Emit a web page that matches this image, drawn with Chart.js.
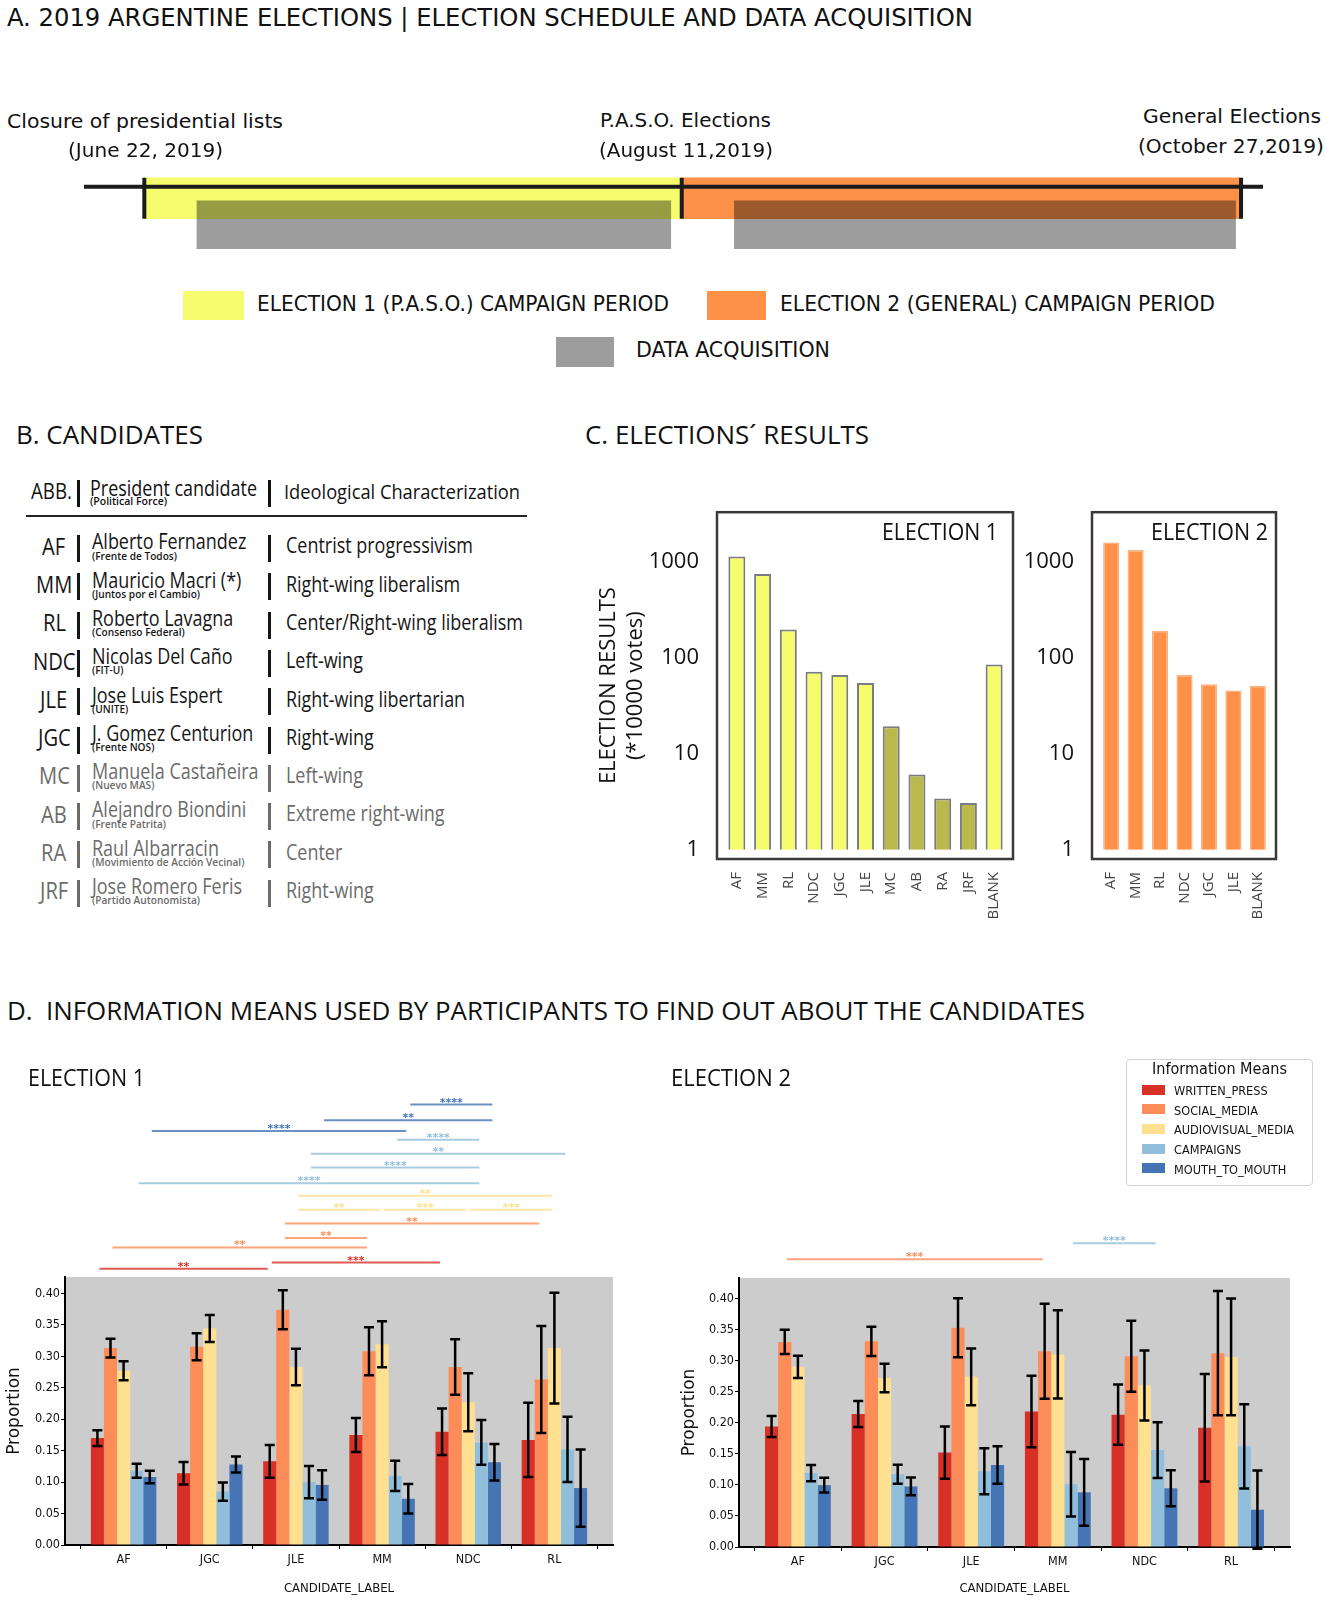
<!DOCTYPE html>
<html>
<head>
<meta charset="utf-8">
<title>2019 Argentine elections</title>
<script src="https://cdn.jsdelivr.net/npm/chart.js@4.4.1/dist/chart.umd.min.js"></script>
<style>
  html, body { margin: 0; padding: 0; background: #fff; }
  body { position: relative; width: 1325px; height: 1602px; overflow: hidden; }
  .t { position: absolute; left: 0; white-space: pre; transform-origin: 0 0; }
  .box { position: absolute; }
  canvas { position: absolute; }
</style>
</head>
<body>
<canvas id="timeline" style="left:0;top:160px" width="1325" height="110"></canvas>
<canvas id="res1" style="left:580px;top:482px" width="440" height="448"></canvas>
<canvas id="res2" style="left:1020px;top:482px" width="270" height="448"></canvas>
<canvas id="info1" style="left:0;top:1085px" width="625" height="517"></canvas>
<canvas id="info2" style="left:625px;top:1085px" width="700" height="517"></canvas>
<script>
// ---------- data ----------
// A. schedule (positions are schematic, the original time line is not to scale)
const periodNames = ['ELECTION 1 (P.A.S.O.) CAMPAIGN PERIOD', 'ELECTION 2 (GENERAL) CAMPAIGN PERIOD', 'DATA ACQUISITION'];
const periodColors = ['#f5fd6e', '#fd9147', '#9d9d9d'];
const milestoneTitles = ['Closure of presidential lists', 'P.A.S.O. Elections', 'General Elections'];
const milestoneDates = ['(June 22, 2019)', '(August 11,2019)', '(October 27,2019)'];
const milestonePos = [0, 49, 100];
const campaignSpans = [[0, 49], [49, 100]];
const acquisitionSpans = [[4.8, 48], [53.8, 99.5]];

// B. candidates
const abbrevs = ['AF', 'MM', 'RL', 'NDC', 'JLE', 'JGC', 'MC', 'AB', 'RA', 'JRF'];
const candidateNames = ['Alberto Fernandez', 'Mauricio Macri (*)', 'Roberto Lavagna', 'Nicolas Del Caño', 'Jose Luis Espert',
  'J. Gomez Centurion', 'Manuela Castañeira', 'Alejandro Biondini', 'Raul Albarracin', 'Jose Romero Feris'];
const parties = ['(Frente de Todos)', '(Juntos por el Cambio)', '(Consenso Federal)', '(FIT-U)', '(UNITE)',
  '(Frente NOS)', '(Nuevo MAS)', '(Frente Patrita)', '(Movimiento de Acción Vecinal)', '(Partido Autonomista)'];
const ideologies = ['Centrist progressivism', 'Right-wing liberalism', 'Center/Right-wing liberalism', 'Left-wing',
  'Right-wing libertarian', 'Right-wing', 'Left-wing', 'Extreme right-wing', 'Center', 'Right-wing'];

// C. results (*10000 votes)
const resultLabels1 = ['AF', 'MM', 'RL', 'NDC', 'JGC', 'JLE', 'MC', 'AB', 'RA', 'JRF', 'BLANK'];
const results1 = [1127, 744, 196, 71.2, 66.1, 54.6, 19.3, 6.08, 3.42, 3.07, 84.8];
const resultLabels2 = ['AF', 'MM', 'RL', 'NDC', 'JGC', 'JLE', 'BLANK'];
const results2 = [1583, 1318, 191, 66.1, 52.7, 45.6, 51];
const logTicks = [1, 10, 100, 1000];

// D. information means
const infoMeans = ['WRITTEN_PRESS', 'SOCIAL_MEDIA', 'AUDIOVISUAL_MEDIA', 'CAMPAIGNS', 'MOUTH_TO_MOUTH'];
const meansColors = ['#d73027', '#fc8d59', '#fee090', '#91bfdb', '#4575b4'];
const surveyCandidates = ['AF', 'JGC', 'JLE', 'MM', 'NDC', 'RL'];

const e1Press = [0.170, 0.114, 0.133, 0.175, 0.180, 0.167];
const e1Social = [0.313, 0.315, 0.374, 0.308, 0.283, 0.263];
const e1Audiovisual = [0.277, 0.344, 0.283, 0.319, 0.227, 0.313];
const e1Campaigns = [0.118, 0.085, 0.100, 0.110, 0.163, 0.152];
const e1Mouth = [0.108, 0.128, 0.0955, 0.0735, 0.1315, 0.0905];
const e1PressErr = [0.0125, 0.018, 0.026, 0.027, 0.037, 0.059];
const e1SocialErr = [0.015, 0.0215, 0.031, 0.038, 0.044, 0.085];
const e1AudiovisualErr = [0.015, 0.0215, 0.029, 0.0365, 0.046, 0.088];
const e1CampaignsErr = [0.011, 0.0145, 0.0255, 0.024, 0.0355, 0.052];
const e1MouthErr = [0.010, 0.0128, 0.0235, 0.0235, 0.029, 0.0615];

const e2Press = [0.194, 0.214, 0.152, 0.218, 0.213, 0.192];
const e2Social = [0.330, 0.331, 0.353, 0.315, 0.307, 0.312];
const e2Audiovisual = [0.290, 0.272, 0.274, 0.310, 0.260, 0.306];
const e2Campaigns = [0.119, 0.117, 0.122, 0.101, 0.156, 0.162];
const e2Mouth = [0.0996, 0.0975, 0.132, 0.088, 0.0945, 0.060];
const e2PressErr = [0.017, 0.021, 0.042, 0.0575, 0.0485, 0.0865];
const e2SocialErr = [0.0195, 0.0235, 0.0475, 0.0765, 0.057, 0.100];
const e2AudiovisualErr = [0.018, 0.023, 0.0457, 0.071, 0.0565, 0.094];
const e2CampaignsErr = [0.013, 0.0153, 0.037, 0.052, 0.045, 0.0677];
const e2MouthErr = [0.012, 0.0143, 0.030, 0.0537, 0.029, 0.063];

// significance brackets: [means, from, to, stars, height on the proportion axis]
const e1Brackets = [
  ['MOUTH_TO_MOUTH', 'MM', 'NDC', '****', 0.700],
  ['MOUTH_TO_MOUTH', 'JLE', 'NDC', '**', 0.675],
  ['MOUTH_TO_MOUTH', 'AF', 'MM', '****', 0.658],
  ['CAMPAIGNS', 'MM', 'NDC', '****', 0.644],
  ['CAMPAIGNS', 'JLE', 'RL', '**', 0.622],
  ['CAMPAIGNS', 'JLE', 'NDC', '****', 0.600],
  ['CAMPAIGNS', 'AF', 'NDC', '****', 0.575],
  ['AUDIOVISUAL_MEDIA', 'JLE', 'RL', '**', 0.555],
  ['AUDIOVISUAL_MEDIA', 'JLE', 'MM', '**', 0.533],
  ['AUDIOVISUAL_MEDIA', 'MM', 'NDC', '***', 0.533],
  ['AUDIOVISUAL_MEDIA', 'NDC', 'RL', '***', 0.533],
  ['SOCIAL_MEDIA', 'JLE', 'RL', '**', 0.511],
  ['SOCIAL_MEDIA', 'JLE', 'MM', '**', 0.488],
  ['SOCIAL_MEDIA', 'AF', 'MM', '**', 0.473],
  ['WRITTEN_PRESS', 'JLE', 'NDC', '***', 0.449],
  ['WRITTEN_PRESS', 'AF', 'JLE', '**', 0.439]
];
const e2Brackets = [
  ['CAMPAIGNS', 'MM', 'NDC', '****', 0.489],
  ['SOCIAL_MEDIA', 'AF', 'MM', '***', 0.463]
];

// ---------- text helpers ----------
const NARROW = {family: '"Liberation Sans Narrow", "DejaVu Sans Condensed", sans-serif', base: 0.847};
const OPEN = {family: '"Open Sans", sans-serif', base: 0.888};
const DV = {family: '"DejaVu Sans Condensed", "DejaVu Sans", sans-serif', base: 0.846};

function addText(str, o) {
  const f = o.font || OPEN;
  const el = document.createElement('div');
  el.className = 't';
  el.textContent = str;
  el.style.fontFamily = f.family;
  el.style.fontSize = o.size + 'px';
  el.style.fontWeight = o.weight || 400;
  el.style.lineHeight = '1';
  el.style.color = o.color || '#111';
  el.style.top = (o.base - f.base * o.size) + 'px';
  document.body.appendChild(el);
  const nat = el.getBoundingClientRect().width;
  const k = o.w ? o.w / nat : (o.k || 1);
  el.style.transform = 'scaleX(' + k + ')';
  el.style.left = (o.cx !== undefined ? o.cx - nat * k / 2 : o.x) + 'px';
  return el;
}
function addBox(x, y, w, h, style) {
  const el = document.createElement('div');
  el.className = 'box';
  Object.assign(el.style, {left: x + 'px', top: y + 'px', width: w + 'px', height: h + 'px'}, style);
  document.body.appendChild(el);
  return el;
}

// ---------- A. election schedule ----------
addText('A. 2019 ARGENTINE ELECTIONS | ELECTION SCHEDULE AND DATA ACQUISITION', {x: 7, base: 26, size: 25, font: NARROW, w: 966});
addText(milestoneTitles[0], {x: 7, base: 128, size: 20, font: NARROW, w: 276});
addText(milestoneDates[0], {x: 68, base: 157, size: 20, font: NARROW, w: 155});
addText(milestoneTitles[1], {x: 600, base: 127, size: 20, font: NARROW, w: 171});
addText(milestoneDates[1], {x: 599, base: 157, size: 20, font: NARROW, w: 174});
addText(milestoneTitles[2], {x: 1143, base: 123, size: 20, font: NARROW, w: 178});
addText(milestoneDates[2], {x: 1138, base: 153, size: 20, font: NARROW, w: 186});

addBox(183, 291, 61, 29, {background: periodColors[0]});
addText(periodNames[0], {x: 257, base: 312, size: 21, font: NARROW, w: 412});
addBox(707, 291, 59, 29, {background: periodColors[1]});
addText(periodNames[1], {x: 780, base: 312, size: 21, font: NARROW, w: 435});
addBox(556, 337, 58, 30, {background: periodColors[2]});
addText(periodNames[2], {x: 636, base: 358, size: 21, font: NARROW, w: 194});

const timelinePlugin = {
  id: 'timeline',
  beforeDatasetDraw(chart, args) {
    if (args.index === 1) { chart.ctx.save(); chart.ctx.globalCompositeOperation = 'multiply'; }
  },
  afterDatasetDraw(chart, args) {
    if (args.index === 1) chart.ctx.restore();
  },
  afterDatasetsDraw(chart) {
    const ctx = chart.ctx, x = chart.scales.x;
    const bar = chart.getDatasetMeta(0).data[0];
    const top = bar.y - bar.height / 2, bottom = bar.y + bar.height / 2;
    ctx.save();
    ctx.strokeStyle = '#1b1b1b';
    ctx.lineWidth = 4;
    ctx.beginPath();
    ctx.moveTo(x.left, top + 9);
    ctx.lineTo(x.right, top + 9);
    ctx.stroke();
    milestonePos.forEach(m => {
      const px = x.getPixelForValue(m);
      ctx.beginPath();
      ctx.moveTo(px, top);
      ctx.lineTo(px, bottom);
      ctx.stroke();
    });
    ctx.restore();
  }
};

new Chart(document.getElementById('timeline'), {
  type: 'bar',
  data: {
    labels: ['campaign', 'acquisition'],
    datasets: [
      {label: 'campaign', data: campaignSpans.map(s => ({x: s, y: 'campaign'})),
       backgroundColor: periodColors.slice(0, 2), barThickness: 41, order: 1, clip: false},
      {label: 'acquisition', data: acquisitionSpans.map(s => ({x: s, y: 'acquisition'})),
       backgroundColor: periodColors[2], barThickness: 48, order: 0, clip: false}
    ]
  },
  options: {
    indexAxis: 'y',
    responsive: false,
    animation: false,
    datasets: {bar: {grouped: false}},
    layout: {padding: {left: 84, right: 62, top: 25, bottom: 32}},
    plugins: {legend: {display: false}, tooltip: {enabled: false}},
    scales: {
      x: {type: 'linear', min: -5.5, max: 102, display: false},
      y: {display: false}
    }
  },
  plugins: [timelinePlugin]
});

// ---------- B. candidates table ----------
addText('B. CANDIDATES', {x: 16, base: 444, size: 26, w: 187});
addText('ABB.', {x: 31, base: 500, size: 21, w: 41});
addText('President candidate', {x: 90, base: 497, size: 21, w: 167});
addText('(Political Force)', {x: 90, base: 505.5, size: 10.5, weight: 600, w: 77});
addText('Ideological Characterization', {x: 284, base: 499.5, size: 19.5, w: 236});
addBox(77, 480, 3, 27, {background: '#111'});
addBox(268, 480, 3, 27, {background: '#111'});
addBox(26, 515, 501, 1.6, {background: '#222'});

const K = 0.855;
abbrevs.forEach((ab, i) => {
  const b = 550 + i * 38.3;
  const col = resultLabels2.includes(ab) ? '#161616' : '#6b6b6b';
  addText(ab, {cx: 54, base: b + 5, size: 24, k: 0.84, color: col});
  addText(candidateNames[i], {x: 92, base: b, size: 21, k: K, color: col});
  addText(parties[i], {x: 92, base: b + 9.8, size: 11.5, weight: 600, k: 0.88, color: col});
  addText(ideologies[i], {x: 286, base: b + 4, size: 21, k: K, color: col});
  addBox(77, b - 15, 3, 27, {background: col});
  addBox(268, b - 15, 3, 27, {background: col});
});

// ---------- C. election results ----------
addText('C. ELECTIONS\u00b4 RESULTS', {x: 585, base: 444, size: 26, w: 284});

const framePlugin = {
  id: 'frame',
  afterDraw(chart) {
    const {ctx, chartArea: a} = chart;
    ctx.save();
    ctx.strokeStyle = '#3a3a3a';
    ctx.lineWidth = 2.5;
    ctx.strokeRect(a.left - 7, a.top, a.right - a.left + 13, a.bottom - a.top);
    ctx.restore();
  }
};

function resultsChart(id, labels, values, fill, edge, edgeWidth, yWidth, padRight, yTitle) {
  return new Chart(document.getElementById(id), {
    type: 'bar',
    data: {
      labels: labels,
      datasets: [{data: values, backgroundColor: fill, borderColor: edge, borderWidth: edgeWidth,
                  base: 1, barPercentage: 0.66, categoryPercentage: 1}]
    },
    options: {
      responsive: false,
      animation: false,
      layout: {padding: {top: 0, right: padRight, left: 0, bottom: 0}},
      plugins: {legend: {display: false}, tooltip: {enabled: false}},
      scales: {
        x: {
          grid: {display: false}, border: {display: false},
          ticks: {minRotation: 90, maxRotation: 90, autoSkip: false, padding: 5, color: '#444',
                  font: {family: '"Open Sans", sans-serif', size: 15}},
          afterFit: s => { s.height = 71; }
        },
        y: {
          type: 'logarithmic', min: 0.8, max: 3270,
          grid: {display: false}, border: {display: false},
          afterBuildTicks: s => { s.ticks = logTicks.map(v => ({value: v})); },
          ticks: {padding: 17, color: '#111', font: {family: '"Open Sans", sans-serif', size: 22},
                  callback: v => String(v)},
          title: {display: !!yTitle, text: yTitle || '', color: '#111',
                  font: {family: '"Open Sans", sans-serif', size: 22}, padding: {top: 16}},
          afterFit: s => { s.width = yWidth; }
        }
      }
    },
    plugins: [framePlugin]
  });
}

resultsChart('res1', resultLabels1, results1,
  resultLabels1.map(l => resultLabels2.includes(l) ? '#f5fd6e' : '#bab94c'),
  '#7b7b84', 2, 144, 13, ['ELECTION RESULTS', '(*10000 votes)']);
resultsChart('res2', resultLabels2, results2, '#fd9147', '#fdb07e', 1.5, 79, 20, null);

addText('ELECTION 1', {x: 882, base: 540, size: 24, w: 116});
addText('ELECTION 2', {x: 1151, base: 540, size: 24, w: 117});

// ---------- D. information means ----------
addText('D.  INFORMATION MEANS USED BY PARTICIPANTS TO FIND OUT ABOUT THE CANDIDATES', {x: 7, base: 1020, size: 26, w: 1078});
addText('ELECTION 1', {x: 28, base: 1086, size: 24, w: 117});
addText('ELECTION 2', {x: 671, base: 1086, size: 24, w: 120});

function surveyPlugin(brackets) {
  return {
    id: 'survey',
    beforeDraw(chart) {
      const {ctx, chartArea: a} = chart;
      ctx.save();
      ctx.fillStyle = '#cccccc';
      ctx.fillRect(a.left, a.top, a.right - a.left, a.bottom - a.top);
      ctx.restore();
    },
    afterDatasetsDraw(chart) {
      const ctx = chart.ctx, y = chart.scales.y;
      ctx.save();
      ctx.strokeStyle = '#000';
      ctx.lineWidth = 2.5;
      chart.data.datasets.forEach((ds, k) => {
        chart.getDatasetMeta(k).data.forEach((bar, i) => {
          const v = ds.data[i].y, e = ds.err[i];
          const y1 = y.getPixelForValue(v + e), y2 = y.getPixelForValue(v - e);
          ctx.beginPath();
          ctx.moveTo(bar.x, y1); ctx.lineTo(bar.x, y2);
          ctx.moveTo(bar.x - 5, y1); ctx.lineTo(bar.x + 5, y1);
          ctx.moveTo(bar.x - 5, y2); ctx.lineTo(bar.x + 5, y2);
          ctx.stroke();
        });
      });
      ctx.restore();
    },
    afterDraw(chart) {
      const ctx = chart.ctx, y = chart.scales.y;
      brackets.forEach(([means, from, to, stars, h]) => {
        const k = infoMeans.indexOf(means);
        const bars = chart.getDatasetMeta(k).data;
        const x1 = bars[surveyCandidates.indexOf(from)].x + 2;
        const x2 = bars[surveyCandidates.indexOf(to)].x - 2;
        const py = y.getPixelForValue(h);
        ctx.save();
        ctx.globalAlpha = 0.8;
        ctx.strokeStyle = meansColors[k];
        ctx.lineWidth = 2;
        ctx.beginPath();
        ctx.moveTo(x1, py);
        ctx.lineTo(x2, py);
        ctx.stroke();
        ctx.globalAlpha = 1;
        ctx.fillStyle = meansColors[k];
        ctx.font = 'bold 11px "DejaVu Sans"';
        ctx.textAlign = 'center';
        ctx.textBaseline = 'alphabetic';
        ctx.fillText(stars, (x1 + x2) / 2, py + 1);
        ctx.restore();
      });
    }
  };
}

function surveyChart(id, vals, errs, brackets, c) {
  const tickFont = {family: '"DejaVu Sans Condensed", "DejaVu Sans", sans-serif', size: 12.5};
  return new Chart(document.getElementById(id), {
    type: 'bar',
    data: {
      datasets: infoMeans.map((name, k) => ({
        label: name,
        data: surveyCandidates.map((cand, i) => ({x: i, y: vals[k][i]})),
        err: errs[k],
        backgroundColor: meansColors[k],
        categoryPercentage: 0.76,
        barPercentage: 1
      }))
    },
    options: {
      responsive: false,
      animation: false,
      layout: {padding: {top: c.padTop, right: c.padRight, left: 0, bottom: 0}},
      plugins: {legend: {display: false}, tooltip: {enabled: false}},
      scales: {
        x: {
          type: 'linear', min: -0.68, max: 5.68, offset: false, z: 1,
          afterBuildTicks: s => { s.ticks = surveyCandidates.map((cand, i) => ({value: i})); },
          ticks: {callback: v => surveyCandidates[v], color: '#111', font: tickFont, padding: 3, maxRotation: 0, autoSkip: false},
          grid: {display: true, drawOnChartArea: false, tickLength: 4, color: '#000'},
          border: {display: true, color: '#000', width: 2},
          title: {display: true, text: 'CANDIDATE_LABEL', color: '#111',
                  font: {family: '"DejaVu Sans Condensed", "DejaVu Sans", sans-serif', size: 13}, padding: {bottom: 6}},
          afterFit: s => { s.height = c.xHeight; }
        },
        y: {
          min: 0, max: c.yMax, z: 1,
          ticks: {stepSize: 0.05, includeBounds: false, callback: v => v.toFixed(2), color: '#111', font: tickFont, padding: 1},
          grid: {display: true, drawOnChartArea: false, tickLength: 4, color: '#000'},
          border: {display: true, color: '#000', width: 2},
          title: {display: true, text: 'Proportion', color: '#111',
                  font: {family: '"DejaVu Sans", sans-serif', size: 17}, padding: {top: c.titlePad}},
          afterFit: s => { s.width = c.yWidth; }
        }
      }
    },
    plugins: [surveyPlugin(brackets)]
  });
}

surveyChart('info1',
  [e1Press, e1Social, e1Audiovisual, e1Campaigns, e1Mouth],
  [e1PressErr, e1SocialErr, e1AudiovisualErr, e1CampaignsErr, e1MouthErr],
  e1Brackets, {padTop: 192, padRight: 12, yWidth: 65, xHeight: 57, yMax: 0.426, titlePad: 4});
surveyChart('info2',
  [e2Press, e2Social, e2Audiovisual, e2Campaigns, e2Mouth],
  [e2PressErr, e2SocialErr, e2AudiovisualErr, e2CampaignsErr, e2MouthErr],
  e2Brackets, {padTop: 193, padRight: 35, yWidth: 114, xHeight: 55, yMax: 0.433, titlePad: 54});

// legend of the information means
addBox(1126, 1059, 185, 125, {border: '1.5px solid #d2d2d2', borderRadius: '4px', background: '#fff'});
addText('Information Means', {x: 1152, base: 1074.5, size: 15, font: DV, w: 135});
infoMeans.forEach((name, k) => {
  const b = 1095 + k * 19.7;
  addBox(1142, b - 10.5, 23, 10, {background: meansColors[k]});
  addText(name, {x: 1174, base: b, size: 13, font: DV, k: 0.97});
});
</script>
</body>
</html>
